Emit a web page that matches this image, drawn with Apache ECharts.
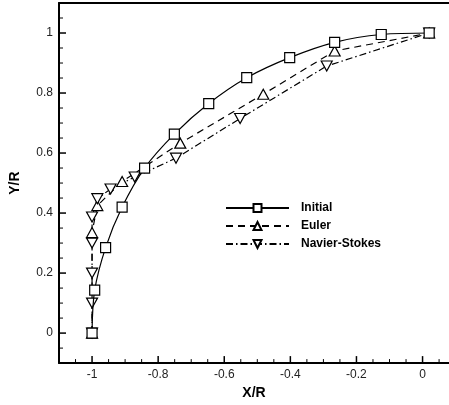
<!DOCTYPE html>
<html>
<head>
<meta charset="utf-8">
<script src="https://cdn.jsdelivr.net/npm/echarts@6/dist/echarts.min.js"></script>
<style>html,body{margin:0;padding:0;background:#fff;}#c{width:449px;height:405px;}</style>
</head>
<body>
<div id="c"></div>
<script>
// Data
var initialX = [-1.0, -0.992, -0.959, -0.909, -0.841, -0.751, -0.647, -0.532, -0.402, -0.266, -0.125, 0.02];
var initialY = [0.0, 0.143, 0.285, 0.42, 0.55, 0.663, 0.765, 0.851, 0.918, 0.969, 0.995, 1.0];
var eulerX = [-1.0, -1.0, -0.984, -0.909, -0.733, -0.482, -0.266, 0.02];
var eulerY = [0.0, 0.335, 0.425, 0.505, 0.633, 0.796, 0.94, 1.0];
var nsX = [-1.0, -1.0, -1.0, -1.0, -1.0, -0.984, -0.944, -0.871, -0.746, -0.552, -0.29, 0.02];
var nsY = [0.0, 0.1, 0.2, 0.3, 0.387, 0.448, 0.48, 0.52, 0.583, 0.715, 0.89, 1.0];
var xMajorTicks = [-1, -0.8, -0.6, -0.4, -0.2, 0];
var xMinorTicks = [-1.05, -0.95, -0.9, -0.85, -0.75, -0.7, -0.65, -0.55, -0.5, -0.45, -0.35, -0.3, -0.25, -0.15, -0.1, -0.05, 0.05];
var yMajorTicks = [0, 0.2, 0.4, 0.6, 0.8, 1];
var yMinorTicks = [-0.05, 0.05, 0.1, 0.15, 0.25, 0.3, 0.35, 0.45, 0.5, 0.55, 0.65, 0.7, 0.75, 0.85, 0.9, 0.95, 1.05];
var seriesNames = ['Initial', 'Euler', 'Navier-Stokes'];
var xRange = [-1.1, 0.08];
var yRange = [-0.1, 1.1];

function pairs(xs, ys) { return xs.map(function (x, i) { return [x, ys[i]]; }); }

var font = 'Liberation Sans, Arial, sans-serif';
var labelFmt = function (v) { return String(Math.round(v * 10) / 10); };

var chart = echarts.init(document.getElementById('c'), null, { renderer: 'canvas' });
var sym = { color: '#fff', borderColor: '#000', borderWidth: 1.2 };
chart.setOption({
  animation: false,
  backgroundColor: '#fff',
  grid: { left: 57, right: -2, top: 3, bottom: 40, show: false },
  xAxis: [{
    type: 'value', min: xRange[0], max: xRange[1], position: 'bottom',
    name: 'X/R', nameLocation: 'middle', nameGap: 22,
    nameTextStyle: { fontFamily: font, fontSize: 14, fontWeight: 'bold', color: '#000' },
    axisLine: { show: true, onZero: false, lineStyle: { color: '#000', width: 2 } },
    axisTick: { show: false },
    axisLabel: { show: true, customValues: xMajorTicks, margin: 6, fontFamily: font, fontSize: 12, color: '#222', formatter: labelFmt },
    splitLine: { show: false }
  }, {
    type: 'value', min: xRange[0], max: xRange[1], position: 'top',
    axisLine: { show: true, onZero: false, lineStyle: { color: '#000', width: 2 } },
    axisTick: { show: false }, axisLabel: { show: false }, splitLine: { show: false }
  }],
  yAxis: [{
    type: 'value', min: yRange[0], max: yRange[1], position: 'left',
    name: 'Y/R', nameLocation: 'middle', nameGap: 37,
    nameTextStyle: { fontFamily: font, fontSize: 14, fontWeight: 'bold', color: '#000' },
    axisLine: { show: true, onZero: false, lineStyle: { color: '#000', width: 2 } },
    axisTick: { show: false },
    axisLabel: { show: true, customValues: yMajorTicks, margin: 6, fontFamily: font, fontSize: 12, color: '#222', formatter: labelFmt },
    splitLine: { show: false }
  }],
  legend: {
    orient: 'vertical', left: 225, top: 202, padding: 0, itemWidth: 63, itemHeight: 10, itemGap: 6,
    textStyle: { fontFamily: font, fontSize: 12, fontWeight: 'bold', color: '#000', padding: [0, 0, 0, 7] },
    data: seriesNames
  },
  series: [{
    name: seriesNames[0], type: 'line', data: pairs(initialX, initialY), smooth: 0.35,
    symbol: 'rect', symbolSize: 10, itemStyle: sym, lineStyle: { color: '#000', width: 1.2, type: 'solid' }, color: '#000', z: 3
  }, {
    name: seriesNames[1], type: 'line', data: pairs(eulerX, eulerY), smooth: false,
    symbol: 'triangle', symbolSize: [11, 10], itemStyle: sym, lineStyle: { color: '#000', width: 1.2, type: [7, 5] }, color: '#000', z: 2
  }, {
    name: seriesNames[2], type: 'line', data: pairs(nsX, nsY), smooth: false,
    symbol: 'triangle', symbolRotate: 180, symbolSize: [11, 10], itemStyle: sym, lineStyle: { color: '#000', width: 1.2, type: [7, 3, 1.5, 3] }, color: '#000', z: 2
  }]
});

// Inward tick marks along the frame, placed with the chart's own axis scales
function tickEls(values, dim, len, w) {
  return values.map(function (v) {
    var p = dim === 'x'
      ? chart.convertToPixel({ xAxisIndex: 0, yAxisIndex: 0 }, [v, yRange[0]])
      : chart.convertToPixel({ xAxisIndex: 0, yAxisIndex: 0 }, [xRange[0], v]);
    var shape = dim === 'x'
      ? { x1: p[0], y1: p[1], x2: p[0], y2: p[1] - len }
      : { x1: p[0], y1: p[1], x2: p[0] + len, y2: p[1] };
    return { type: 'line', silent: true, z: 100, shape: shape, style: { stroke: '#000', lineWidth: w } };
  });
}
var ticks = [].concat(
  tickEls(xMajorTicks, 'x', 7, 1.5),
  tickEls(xMinorTicks, 'x', 4, 1),
  tickEls(yMajorTicks, 'y', 7, 1.5),
  tickEls(yMinorTicks, 'y', 4, 1)
);
chart.setOption({ graphic: { elements: ticks } });
</script>
</body>
</html>
